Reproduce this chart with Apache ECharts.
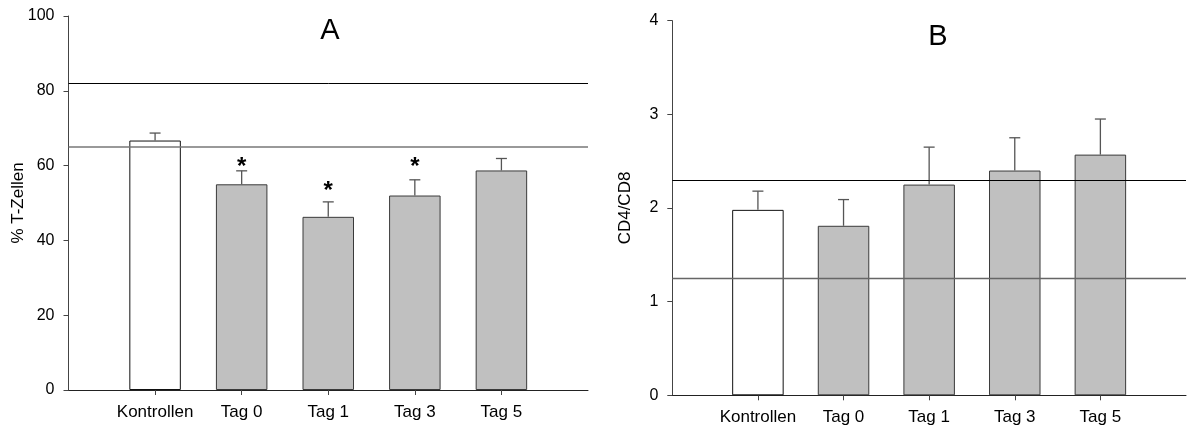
<!DOCTYPE html>
<html>
<head>
<meta charset="utf-8">
<script src="https://cdn.jsdelivr.net/npm/echarts@6/dist/echarts.min.js"></script>
<style>
html,body{margin:0;padding:0;background:#fff;}
#c{width:1189px;height:430px;}
</style>
</head>
<body>
<div id="c"></div>
<script>
// ---- data ----
var categories = ['Kontrollen', 'Tag 0', 'Tag 1', 'Tag 3', 'Tag 5'];

var tzellenMean = [66.7, 55.0, 46.3, 52.0, 58.7];
var tzellenUpper = [68.7, 58.6, 50.3, 56.2, 61.9];
var tzellenStar = [null, 59.4, 53.2, 59.4, null];
var tzellenRefLines = [82, 65];

var ratioMean = [1.98, 1.81, 2.25, 2.40, 2.57];
var ratioUpper = [2.18, 2.09, 2.65, 2.75, 2.95];
var ratioRefLines = [2.3, 1.25];

var ticksA = [0, 20, 40, 60, 80, 100];
var ticksB = [0, 1, 2, 3, 4];

// ---- build ----
var FONT = '"Liberation Sans", Arial, sans-serif';
var padCats = [''].concat(categories).concat(['']);

function barData(vals) {
  var d = [null];
  vals.forEach(function (v, i) {
    d.push({
      value: v,
      itemStyle: i === 0 ? {color: '#ffffff', borderColor: '#111', borderWidth: 1}
                         : {color: '#c0c0c0', borderColor: '#3a3a3a', borderWidth: 1}
    });
  });
  d.push(null);
  return d;
}
function errRender(params, api) {
  var x = api.value(0), up = api.value(1), st = api.value(2), mean = api.value(3);
  var p = api.coord([x, up]);
  var pm = api.coord([x, mean]);
  var children = [
    {type: 'line', shape: {x1: p[0], y1: p[1], x2: p[0], y2: pm[1]},
     style: {stroke: '#555', lineWidth: 1.3}},
    {type: 'line', shape: {x1: p[0] - 5.5, y1: p[1], x2: p[0] + 5.5, y2: p[1]},
     style: {stroke: '#555', lineWidth: 1.3}}
  ];
  if (st >= 0) {
    var ps = api.coord([x, st]);
    children.push({type: 'text', x: ps[0], y: ps[1],
      style: {text: '*', fontSize: 24, fontWeight: 'bold', fontFamily: FONT,
              fill: '#000', align: 'center', verticalAlign: 'middle'}});
  }
  return {type: 'group', children: children};
}
function errData(upper, mean, stars) {
  return upper.map(function (u, i) {
    return [i + 1, u, stars ? (stars[i] == null ? -1 : stars[i]) : -1, mean[i]];
  });
}
function refLines(vals, colors, widths) {
  return {
    silent: true, symbol: 'none', label: {show: false}, z: 5,
    data: vals.map(function (v, i) {
      return {yAxis: v, lineStyle: {color: colors[i], width: widths[i], type: 'solid'}};
    })
  };
}

function xAxis(gi) {
  return {
    type: 'category', gridIndex: gi, data: padCats, boundaryGap: false,
    axisLine: {lineStyle: {color: '#222', width: 1}},
    axisTick: {length: 5, lineStyle: {color: '#444'},
      interval: function (idx) { return idx > 0 && idx < padCats.length - 1; }},
    axisLabel: {color: '#000', fontSize: 17, fontFamily: FONT, margin: 14, interval: 0},
    splitLine: {show: false}
  };
}
function yAxis(gi, ticks, name, gap) {
  return {
    type: 'value', gridIndex: gi, min: ticks[0], max: ticks[ticks.length - 1],
    interval: ticks[1] - ticks[0],
    name: name, nameLocation: 'middle', nameRotate: 90, nameGap: gap,
    nameMoveOverlap: false,
    nameTextStyle: {color: '#000', fontSize: 17, fontFamily: FONT},
    axisLine: {show: true, lineStyle: {color: '#444', width: 1}},
    axisTick: {show: true, length: 5, lineStyle: {color: '#444'}},
    axisLabel: {color: '#000', fontSize: 16, fontFamily: FONT, margin: 14},
    splitLine: {show: false}
  };
}

var option = {
  animation: false,
  backgroundColor: '#fff',
  title: [
    {text: 'A', left: 325, top: 11, textAlign: 'center',
     textStyle: {fontSize: 29, fontWeight: 'normal', color: '#000', fontFamily: FONT}},
    {text: 'B', left: 933, top: 17, textAlign: 'center',
     textStyle: {fontSize: 29, fontWeight: 'normal', color: '#000', fontFamily: FONT}}
  ],
  grid: [
    {left: 68.5, top: 16, width: 519.5, height: 374},
    {left: 672.3, top: 20.7, width: 518.5, height: 374.6}
  ],
  xAxis: [xAxis(0), xAxis(1)],
  yAxis: [yAxis(0, ticksA, '% T-Zellen', 42), yAxis(1, ticksB, 'CD4/CD8', 38)],
  series: [
    {type: 'bar', xAxisIndex: 0, yAxisIndex: 0, barWidth: 51.5, data: barData(tzellenMean),
     markLine: refLines(tzellenRefLines, ['#000', '#777'], [1, 1.6])},
    {type: 'custom', xAxisIndex: 0, yAxisIndex: 0, z: 4, renderItem: errRender,
     data: errData(tzellenUpper, tzellenMean, tzellenStar)},
    {type: 'bar', xAxisIndex: 1, yAxisIndex: 1, barWidth: 51.5, data: barData(ratioMean),
     markLine: refLines(ratioRefLines, ['#000', '#666'], [1, 1.3])},
    {type: 'custom', xAxisIndex: 1, yAxisIndex: 1, z: 4, renderItem: errRender,
     data: errData(ratioUpper, ratioMean, null)}
  ]
};
var chart = echarts.init(document.getElementById('c'), null, {renderer: 'canvas'});
chart.setOption(option);
</script>
</body>
</html>
